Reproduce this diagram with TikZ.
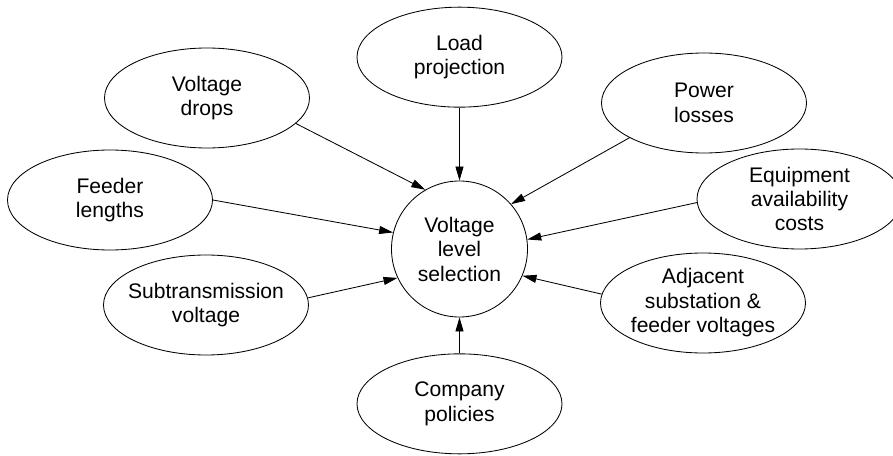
\documentclass[tikz,border=0pt]{standalone}
\usepackage{fontspec}
\setmainfont{Liberation Sans}
\usepackage{tikz}
\usetikzlibrary{positioning,arrows.meta,shapes.geometric}
\tikzset{
  sel/.style={circle, draw, line width=0.6pt, minimum size=3.4cm, inner sep=0pt,
              align=center, font=\fontsize{15}{17.4}\selectfont},
  factor/.style={ellipse, draw, line width=0.6pt, minimum width=5.125cm, minimum height=2.5cm,
                 inner ysep=0pt, inner xsep=-0.15cm, align=center, font=\fontsize{15}{17.4}\selectfont},
  edge/.style={-{Triangle[length=3.5mm,width=2mm]}, line width=0.6pt}
}

\begin{document}
\begin{tikzpicture}[node distance=1cm]
        \useasboundingbox (-11.4875,-5.15) rectangle (10.8375,6.225);
        \node[sel] (sel) {Voltage\\level\\selection};
        \node[factor, above=1.825cm of sel] (ld) {Load\\projection};
        \node[factor, below=0.9cm of sel] (cp) {Company\\policies};
        \node[factor] (vd) at (-6.3125,3.775) {Voltage\\drops};
        \node[factor] (pl) at (6.1125,3.65) {Power\\losses};
        \node[factor] (fl) at (-8.7375,1.225) {Feeder\\lengths};
        \node[factor] (eq) at (8.5,1.25) {Equipment\\availability\\costs};
        \node[factor] (st) at (-6.3375,-1.4) {Subtransmission\\voltage};
        \node[factor] (ad) at (6.0875,-1.35) {Adjacent\\substation \&\\feeder voltages};
        \draw[edge] (ld) -- (sel); \draw[edge] (cp) -- (sel);
        \draw[edge] (vd.-16) -- (sel.120); \draw[edge] (pl.205) -- (sel.41);
        \draw[edge] (fl.0) -- (sel.166); \draw[edge] (eq.182) -- (sel.8);
        \draw[edge] (st.4) -- (sel.205); \draw[edge] (ad.175) -- (sel.-23);
      \end{tikzpicture}
\end{document}
